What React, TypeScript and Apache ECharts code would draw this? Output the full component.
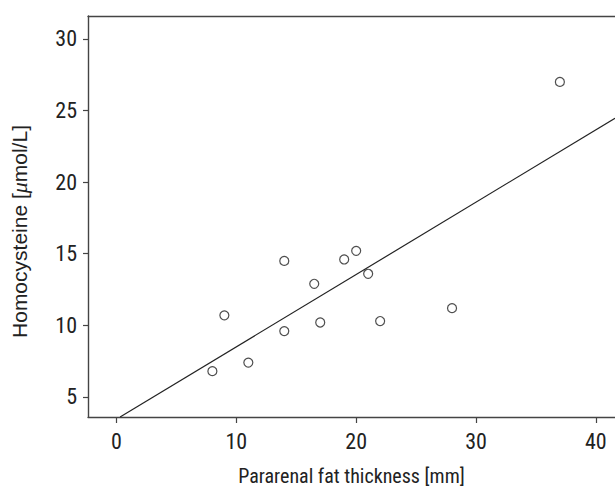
import React, { useEffect, useRef } from "react";
import * as echarts from "echarts";

const xTicks = [0, 10, 20, 30, 40];
const yTicks = [5, 10, 15, 20, 25, 30];
const fatThickness = [8, 9, 11, 14, 14, 16.5, 17, 19, 20, 21, 22, 28, 37];
const homocysteine = [6.8, 10.7, 7.4, 14.5, 9.6, 12.9, 10.2, 14.6, 15.2, 13.6, 10.3, 11.2, 27.0];
const fitIntercept = 3.45;
const fitSlope = 0.505;
const xRange = [-2.38, 41.6];
const yRange = [3.6, 31.6];

const FONT = "'Roboto Condensed', 'DejaVu Sans Condensed', sans-serif";
const YFONT = "'Liberation Sans', Arial, sans-serif";
const INK = "#222";
const AXIS = "#444";

export default function App() {
  const ref = useRef<HTMLDivElement>(null);
  useEffect(() => {
    if (!ref.current) return;
    const chart = echarts.init(ref.current, undefined, { renderer: "svg" });
    const points = fatThickness.map((x, i) => [x, homocysteine[i]]);
    const x0 = (yRange[0] - fitIntercept) / fitSlope;
    const x1 = xRange[1];
    const fit = [
      [x0, fitIntercept + fitSlope * x0],
      [x1, fitIntercept + fitSlope * x1],
    ];
    chart.setOption({
      animation: false,
      grid: { left: 80, top: 16, bottom: 69, right: 0, containLabel: false },
      xAxis: [
        {
          type: "value",
          min: xRange[0],
          max: xRange[1],
          splitLine: { show: false },
          axisLine: { show: true, onZero: false, lineStyle: { color: AXIS, width: 1.4 } },
          axisTick: { show: true, length: 6, customValues: xTicks, lineStyle: { color: AXIS, width: 1.2 } },
          axisLabel: {
            customValues: xTicks,
            color: INK,
            fontFamily: FONT,
            fontSize: 22,
            margin: 13,
          },
          name: "Pararenal fat thickness [mm]",
          nameLocation: "middle",
          nameGap: 49,
          nameTextStyle: { color: INK, fontFamily: FONT, fontSize: 20 },
        },
        {
          type: "value",
          position: "top",
          min: xRange[0],
          max: xRange[1],
          splitLine: { show: false },
          axisLine: { show: true, onZero: false, lineStyle: { color: AXIS, width: 1.4 } },
          axisTick: { show: false },
          axisLabel: { show: false },
        },
      ],
      yAxis: {
        type: "value",
        min: yRange[0],
        max: yRange[1],
        splitLine: { show: false },
        axisLine: { show: true, onZero: false, lineStyle: { color: AXIS, width: 1.4 } },
        axisTick: { show: true, length: 5, customValues: yTicks, lineStyle: { color: AXIS, width: 1.2 } },
        axisLabel: {
          customValues: yTicks,
          color: INK,
          fontFamily: FONT,
          fontSize: 22,
          margin: 11,
        },
        name: "{a|Homocysteine [}{b|μ}{a|mol/L]}",
        nameLocation: "middle",
        nameGap: 58,
        nameRotate: 90,
        nameTextStyle: {
          padding: [0, 30, 0, 0],
          rich: {
            a: { color: INK, fontFamily: YFONT, fontSize: 21 },
            b: { color: INK, fontFamily: "'Liberation Serif', serif", fontStyle: "italic", fontSize: 22 },
          },
        },
      },
      series: [
        {
          type: "scatter",
          data: points,
          symbol: "circle",
          symbolSize: 9,
          itemStyle: { color: "#fff", borderColor: INK, borderWidth: 1.2 },
          z: 3,
        },
        {
          type: "line",
          data: fit,
          showSymbol: false,
          symbol: "none",
          lineStyle: { color: INK, width: 1.2 },
          z: 2,
        },
      ],
    });
    return () => chart.dispose();
  }, []);
  return (
    <div
      ref={ref}
      style={{ position: "absolute", left: 0, top: 0, width: 615, height: 491, background: "#fff" }}
    />
  );
}
